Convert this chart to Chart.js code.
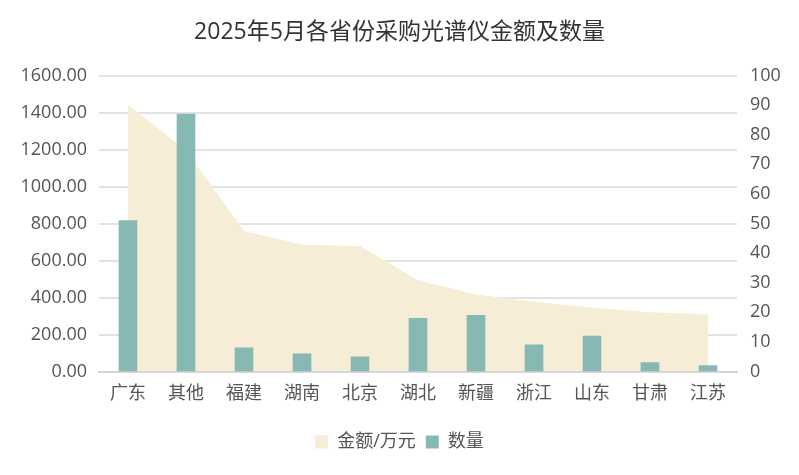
<!DOCTYPE html>
<html>
<head>
<meta charset="utf-8">
<script src="https://cdn.jsdelivr.net/npm/chart.js@4/dist/chart.umd.min.js"></script>
<style>
  html, body { margin: 0; padding: 0; background: #fff; }
  #wrap { width: 799px; height: 475px; position: relative; }
</style>
</head>
<body>
<div id="wrap"><canvas id="provinceChart"></canvas></div>
<script>
// 2025年5月 各省份光谱仪采购
const provinces = ['广东', '其他', '福建', '湖南', '北京', '湖北', '新疆', '浙江', '山东', '甘肃', '江苏'];
const amounts = [1442, 1195, 760, 686, 679, 494, 417, 377, 346, 320, 310]; // 金额/万元
const counts = [51, 87, 8, 6, 5, 18, 19, 9, 12, 3, 2]; // 数量

const FONT = '"Open Sans", "Noto Sans CJK SC", sans-serif';
const TEXT = '#555';

new Chart(document.getElementById('provinceChart'), {
  type: 'bar',
  data: {
    labels: provinces,
    datasets: [
      {
        type: 'line',
        label: '金额/万元',
        data: amounts,
        yAxisID: 'y',
        fill: 'origin',
        backgroundColor: '#f5edd5',
        borderColor: '#f5edd5',
        borderWidth: 0,
        pointRadius: 0,
        tension: 0,
        order: 2
      },
      {
        label: '数量',
        data: counts,
        yAxisID: 'y1',
        backgroundColor: '#88b8b4',
        barThickness: 18,
        order: 1
      }
    ]
  },
  options: {
    responsive: true,
    maintainAspectRatio: false,
    animation: false,
    layout: { padding: { top: 0, bottom: 14, left: 0, right: 0 } },
    plugins: {
      title: {
        display: true,
        text: '2025年5月各省份采购光谱仪金额及数量',
        color: '#333',
        font: { family: FONT, size: 23, weight: 'normal' },
        padding: { top: 19, bottom: 29 }
      },
      legend: {
        position: 'bottom',
        labels: {
          color: TEXT,
          font: { family: FONT, size: 18 },
          boxWidth: 13,
          boxHeight: 13,
          padding: 10,
          sort: (a, b) => a.datasetIndex - b.datasetIndex
        }
      },
      tooltip: { enabled: false }
    },
    scales: {
      x: {
        grid: { display: false },
        border: { color: '#d6d6d6', width: 2 },
        ticks: { color: TEXT, font: { family: FONT, size: 18 }, padding: 4 },
        afterFit: (scale) => { scale.height = 51.5; }
      },
      y: {
        position: 'left',
        min: 0,
        max: 1600,
        grid: { color: '#e3e3e3', lineWidth: 2, drawTicks: false },
        border: { display: false },
        ticks: {
          stepSize: 200,
          color: TEXT,
          font: { family: FONT, size: 18 },
          padding: 12,
          callback: (value) => value.toFixed(2)
        },
        afterFit: (scale) => { scale.width = 99; }
      },
      y1: {
        position: 'right',
        min: 0,
        max: 100,
        grid: { display: false, drawTicks: false },
        border: { display: false },
        ticks: {
          stepSize: 10,
          color: TEXT,
          font: { family: FONT, size: 18 },
          padding: 13
        },
        afterFit: (scale) => { scale.width = 62; }
      }
    }
  }
});
</script>
</body>
</html>
